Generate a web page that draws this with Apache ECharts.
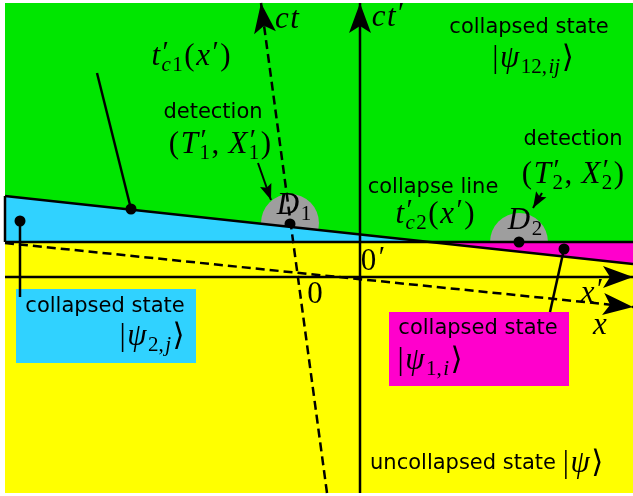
<!DOCTYPE html>
<html>
<head>
<meta charset="utf-8">
<script src="https://cdn.jsdelivr.net/npm/echarts@6/dist/echarts.min.js"></script>
<style>
html, body { margin: 0; padding: 0; background: #fff; }
#chart { width: 633px; height: 496px; }
</style>
</head>
<body>
<div id="chart"></div>
<script>
// diagram coordinates (pixel-like units, y grows downward)
const frameTL = [5, 3];
const frameBR = [633, 493];
const baseY = 242;
const collapseLine1 = [[5, 196], [633, 264]];
const cyanRegion = [[5, 196], [430, 242], [5, 242]];
const pinkRegion = [[430, 242], [633, 242], [633, 264]];
const detectors = [[290, 223], [519, 242]];
const detectorR = 29;
const axisXp = [[5, 277], [633, 277]];
const axisX = [[5, 243], [633, 307]];
const axisCtp = [[360, 493], [360, 3]];
const axisCt = [[327, 493], [261, 3]];
const pointers = [[[97, 73], [131, 209]], [[20, 297], [20, 221]], [[550, 312], [564, 249]]];
const dots = [[131, 209], [20, 221], [564, 249], [519, 242]];
const hiddenDots = [[290, 224]];   // partly covered by the cyan region
const detArrows = [[[258, 163], [271, 200]], [[542, 193], [533, 208]]];
const cyanBox = [[16, 289], [196, 363]];
const pinkBox = [[389, 312], [569, 386]];

const GREEN = '#00e600', YELLOW = '#ffff00', CYAN = '#30d2ff', PINK = '#ff00cc', GRAY = '#9e9e9e';
const SANS = '"DejaVu Sans", sans-serif';
const SERIF = '"Liberation Serif", "DejaVu Serif", serif';

// math text pieces
const mi = t => ({ t, it: 1, s: 31 });
const mn = t => ({ t, s: 31 });
const sb = (t, it) => ({ t, it, s: 21, dy: 8, sub: 1 });
const pr = stack => ({ t: '′', s: 29, dy: -4, dx: 1, stack });

const mathLabels = [
    { at: [191, 57], parts: [mi('t'), pr(true), sb('c', 1), sb('1'), mn('('), mi('x'), pr(), mn(')')] },
    { at: [287, 20], parts: [mi('c'), mi('t')] },
    { at: [388, 18], parts: [mi('c'), mi('t'), pr()] },
    { at: [220, 145], parts: [mn('('), mi('T'), pr(true), sb('1'), mn(', '), mi('X'), pr(true), sb('1'), mn(')')] },
    { at: [573, 175], parts: [mn('('), mi('T'), pr(true), sb('2'), mn(', '), mi('X'), pr(true), sb('2'), mn(')')] },
    { at: [435, 215], parts: [mi('t'), pr(true), sb('c', 1), sb('2'), mn('('), mi('x'), pr(), mn(')')] },
    { at: [533, 59], parts: [mn('|'), mi('ψ'), sb('12,'), sb('ij', 1), mn('⟩')] },
    { at: [152, 337], parts: [mn('|'), mi('ψ'), sb('2,'), sb('j', 1), mn('⟩')] },
    { at: [430, 361], parts: [mn('|'), mi('ψ'), sb('1,'), sb('i', 1), mn('⟩')] },
    { at: [583, 464], parts: [mn('|'), mi('ψ'), mn('⟩')] },
    { at: [294, 206], parts: [mi('D'), sb('1')] },
    { at: [525, 221], parts: [mi('D'), sb('2')] },
    { at: [373, 262], parts: [mn('0'), pr()] },
    { at: [315, 295], parts: [mn('0')] },
    { at: [592, 294], parts: [mi('x'), pr()] },
    { at: [600, 326], parts: [mi('x')] }
];
const wordLabels = [
    { at: [529, 28], t: 'collapsed state' },
    { at: [213, 113], t: 'detection' },
    { at: [573, 140], t: 'detection' },
    { at: [433, 188], t: 'collapse line' },
    { at: [105, 307], t: 'collapsed state' },
    { at: [478, 329], t: 'collapsed state' },
    { at: [463, 464], t: 'uncollapsed state' }
];

const mctx = document.createElement('canvas').getContext('2d');
function fontOf(p) { return (p.it ? 'italic ' : '') + p.s + 'px ' + SERIF; }
function measure(t, font) { mctx.font = font; return mctx.measureText(t).width; }

function layoutMath(parts) {
    const gap = 1.5;
    let x = 0, primeEnd = null;
    const out = [];
    parts.forEach(p => {
        const w = measure(p.t, fontOf(p));
        if (!p.sub && !p.stack && primeEnd !== null) { x = Math.max(x, primeEnd); primeEnd = null; }
        out.push({ p, x: x + (p.dx || 0) });
        if (p.stack) { primeEnd = x + (p.dx || 0) + w + gap; return; }
        x += w + (p.dx || 0) + gap;
    });
    if (primeEnd !== null) x = Math.max(x, primeEnd);
    return { items: out, width: x - gap };
}

function textEl(x, y, text, font, align) {
    return {
        type: 'text',
        style: {
            x, y, text, font, fill: '#000',
            align: align || 'center', verticalAlign: 'middle',
            textAlign: align || 'center', textVerticalAlign: 'middle'
        }
    };
}

function arrowHead(api, from, to, len, half, notch) {
    const a = api.coord(from), b = api.coord(to);
    const dx = b[0] - a[0], dy = b[1] - a[1];
    const L = Math.hypot(dx, dy);
    const ux = dx / L, uy = dy / L, px = -uy, py = ux;
    const bx = b[0] - ux * len, by = b[1] - uy * len;
    return {
        type: 'polygon',
        shape: { points: [
            b,
            [bx + px * half, by + py * half],
            [b[0] - ux * (len - notch), b[1] - uy * (len - notch)],
            [bx - px * half, by - py * half]
        ] },
        style: { fill: '#000' }
    };
}

function dotEl(api, d) {
    const p = api.coord(d);
    return { type: 'circle', shape: { cx: p[0], cy: p[1], r: 5.5 }, style: { fill: '#000' } };
}

function lineSeries(pts, dashed, width) {
    return {
        type: 'line', data: pts, showSymbol: false, symbol: 'none', silent: true, z: 3,
        lineStyle: { color: '#000', width: width || 2.5, type: dashed ? [9, 5] : 'solid', cap: 'butt' },
        animation: false
    };
}

const chart = echarts.init(document.getElementById('chart'));

const series = [
    {
        type: 'custom', coordinateSystem: 'cartesian2d', data: [0], z: 1, silent: true, animation: false,
        renderItem: (params, api) => {
            const poly = (pts, fill) => ({ type: 'polygon', shape: { points: pts.map(p => api.coord(p)) }, style: { fill } });
            const rect = (tl, br, fill) => {
                const a = api.coord(tl), b = api.coord(br);
                return { type: 'rect', shape: { x: a[0], y: a[1], width: b[0] - a[0], height: b[1] - a[1] }, style: { fill } };
            };
            const circ = c => {
                const p = api.coord(c), q = api.coord([c[0] + detectorR, c[1]]);
                return { type: 'circle', shape: { cx: p[0], cy: p[1], r: q[0] - p[0] }, style: { fill: GRAY } };
            };
            return { type: 'group', children: [
                rect(frameTL, [frameBR[0], baseY], GREEN),
                ...detectors.map(circ),
                ...hiddenDots.map(d => dotEl(api, d)),
                poly(cyanRegion, CYAN),
                rect([frameTL[0], baseY], frameBR, YELLOW),
                poly(pinkRegion, PINK),
                rect(cyanBox[0], cyanBox[1], CYAN),
                rect(pinkBox[0], pinkBox[1], PINK)
            ] };
        }
    },
    lineSeries([[frameTL[0], baseY], [frameBR[0], baseY]]),
    lineSeries(collapseLine1),
    lineSeries([cyanRegion[0], cyanRegion[2]]),
    lineSeries(axisXp),
    lineSeries(axisX, true),
    lineSeries(axisCtp),
    lineSeries(axisCt, true),
    ...pointers.map(p => lineSeries(p)),
    ...detArrows.map(p => lineSeries(p, false, 2)),
    {
        type: 'custom', coordinateSystem: 'cartesian2d', data: [0], z: 4, silent: true, animation: false,
        renderItem: (params, api) => {
            const heads = [axisXp, axisX, axisCtp, axisCt].map(a => arrowHead(api, a[0], a[1], 30, 11, 7))
                .concat(detArrows.map(a => arrowHead(api, a[0], a[1], 16, 6, 3)));
            const ds = dots.map(d => dotEl(api, d));
            return { type: 'group', children: heads.concat(ds) };
        }
    },
    {
        type: 'custom', coordinateSystem: 'cartesian2d', data: [0], z: 5, silent: true, animation: false,
        renderItem: (params, api) => {
            const els = [];
            wordLabels.forEach(l => {
                const p = api.coord(l.at);
                els.push(textEl(p[0], p[1], l.t, '21px ' + SANS, 'center'));
            });
            mathLabels.forEach(l => {
                const p = api.coord(l.at);
                const lay = layoutMath(l.parts);
                const x0 = p[0] - lay.width / 2;
                lay.items.forEach(it => {
                    els.push(textEl(x0 + it.x, p[1] + (it.p.dy || 0), it.p.t, fontOf(it.p), 'left'));
                });
            });
            return { type: 'group', children: els };
        }
    }
];

chart.setOption({
    animation: false,
    grid: { left: 0, right: 0, top: 0, bottom: 0 },
    xAxis: { type: 'value', min: 0, max: 633, show: false },
    yAxis: { type: 'value', min: 0, max: 496, inverse: true, show: false },
    series
});
</script>
</body>
</html>
